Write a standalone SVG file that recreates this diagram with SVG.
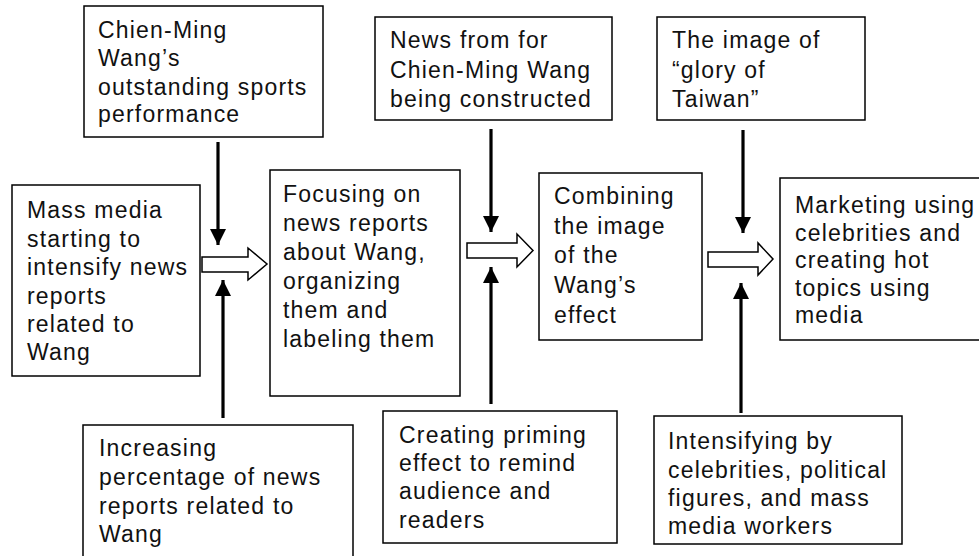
<svg xmlns="http://www.w3.org/2000/svg" width="979" height="556" viewBox="0 0 979 556">
<style>
.box{fill:#fff;stroke:#000;stroke-width:1.5}
.t{font-family:"Liberation Sans",Arial,sans-serif;font-size:23px;letter-spacing:1.2px;fill:#111}
.sh{stroke:#000;stroke-width:3.2;fill:none}
.hollow{fill:#fff;stroke:#000;stroke-width:1.5;stroke-linejoin:miter}
</style>
<defs>
<marker id="ah" markerUnits="userSpaceOnUse" markerWidth="16" markerHeight="18" viewBox="0 0 16 18" refX="16" refY="8" orient="auto">
<path d="M0,0 L16,8 L0,16 Z" fill="#000"/>
</marker>
</defs>
<rect width="979" height="556" fill="#fff"/>
<g id="n-performance">
<rect class="box" x="84" y="6" width="239" height="131"/>
<text class="t" x="98"><tspan x="98" y="38">Chien-Ming</tspan><tspan x="98" y="66">Wang’s</tspan><tspan x="98" y="95">outstanding sports</tspan><tspan x="98" y="122">performance</tspan></text>
</g>
<g id="n-massmedia">
<rect class="box" x="12" y="185" width="188" height="191"/>
<text class="t"><tspan x="27" y="218">Mass media</tspan><tspan x="27" y="246.5">starting to</tspan><tspan x="27" y="275">intensify news</tspan><tspan x="27" y="303.5">reports</tspan><tspan x="27" y="332">related to</tspan><tspan x="27" y="360">Wang</tspan></text>
</g>
<g id="n-increasing">
<rect class="box" x="83" y="425" width="270" height="140"/>
<text class="t"><tspan x="99" y="456">Increasing</tspan><tspan x="99" y="485">percentage of news</tspan><tspan x="99" y="514">reports related to</tspan><tspan x="99" y="542">Wang</tspan></text>
</g>
<g id="n-focusing">
<rect class="box" x="270" y="170" width="190" height="226"/>
<text class="t"><tspan x="283" y="202">Focusing on</tspan><tspan x="283" y="231">news reports</tspan><tspan x="283" y="260">about Wang,</tspan><tspan x="283" y="289">organizing</tspan><tspan x="283" y="318">them and</tspan><tspan x="283" y="347">labeling them</tspan></text>
</g>
<g id="n-newsfrom">
<rect class="box" x="375" y="17" width="237" height="103"/>
<text class="t"><tspan x="390" y="48">News from for</tspan><tspan x="390" y="77.5">Chien-Ming Wang</tspan><tspan x="390" y="107">being constructed</tspan></text>
</g>
<g id="n-priming">
<rect class="box" x="383" y="411" width="234" height="132"/>
<text class="t"><tspan x="399" y="443">Creating priming</tspan><tspan x="399" y="471">effect to remind</tspan><tspan x="399" y="499">audience and</tspan><tspan x="399" y="528">readers</tspan></text>
</g>
<g id="n-combining">
<rect class="box" x="539" y="173" width="163" height="167"/>
<text class="t"><tspan x="554" y="204">Combining</tspan><tspan x="554" y="233.5">the image</tspan><tspan x="554" y="263">of the</tspan><tspan x="554" y="293">Wang’s</tspan><tspan x="554" y="323">effect</tspan></text>
</g>
<g id="n-glory">
<rect class="box" x="657" y="17" width="208" height="103"/>
<text class="t"><tspan x="672" y="48">The image of</tspan><tspan x="672" y="77.5">“glory of</tspan><tspan x="672" y="107">Taiwan”</tspan></text>
</g>
<g id="n-marketing">
<rect class="box" x="780" y="178" width="210" height="162"/>
<text class="t"><tspan x="795" y="213">Marketing using</tspan><tspan x="795" y="240.5">celebrities and</tspan><tspan x="795" y="268">creating hot</tspan><tspan x="795" y="295.5">topics using</tspan><tspan x="795" y="323">media</tspan></text>
</g>
<g id="n-intensifying">
<rect class="box" x="654" y="416" width="248" height="128"/>
<text class="t"><tspan x="668" y="449">Intensifying by</tspan><tspan x="668" y="478">celebrities, political</tspan><tspan x="668" y="506">figures, and mass</tspan><tspan x="668" y="534">media workers</tspan></text>
</g>
<g id="connectors">
<line class="sh" x1="218" y1="142" x2="218" y2="245" marker-end="url(#ah)"/>
<line class="sh" x1="223" y1="418" x2="223" y2="280" marker-end="url(#ah)"/>
<line class="sh" x1="491" y1="129" x2="491" y2="232" marker-end="url(#ah)"/>
<line class="sh" x1="491" y1="404" x2="491" y2="267" marker-end="url(#ah)"/>
<line class="sh" x1="743" y1="130" x2="743" y2="233" marker-end="url(#ah)"/>
<line class="sh" x1="741" y1="413" x2="741" y2="283" marker-end="url(#ah)"/>
<path class="hollow" d="M202,257 L248,257 L248,248 L267,264 L248,280 L248,272 L202,272 Z"/>
<path class="hollow" d="M467,243 L517,243 L517,234 L533,250.5 L517,267 L517,258 L467,258 Z"/>
<path class="hollow" d="M708,252 L758,252 L758,243 L773,259 L758,275 L758,267 L708,267 Z"/>
</g>
</svg>
